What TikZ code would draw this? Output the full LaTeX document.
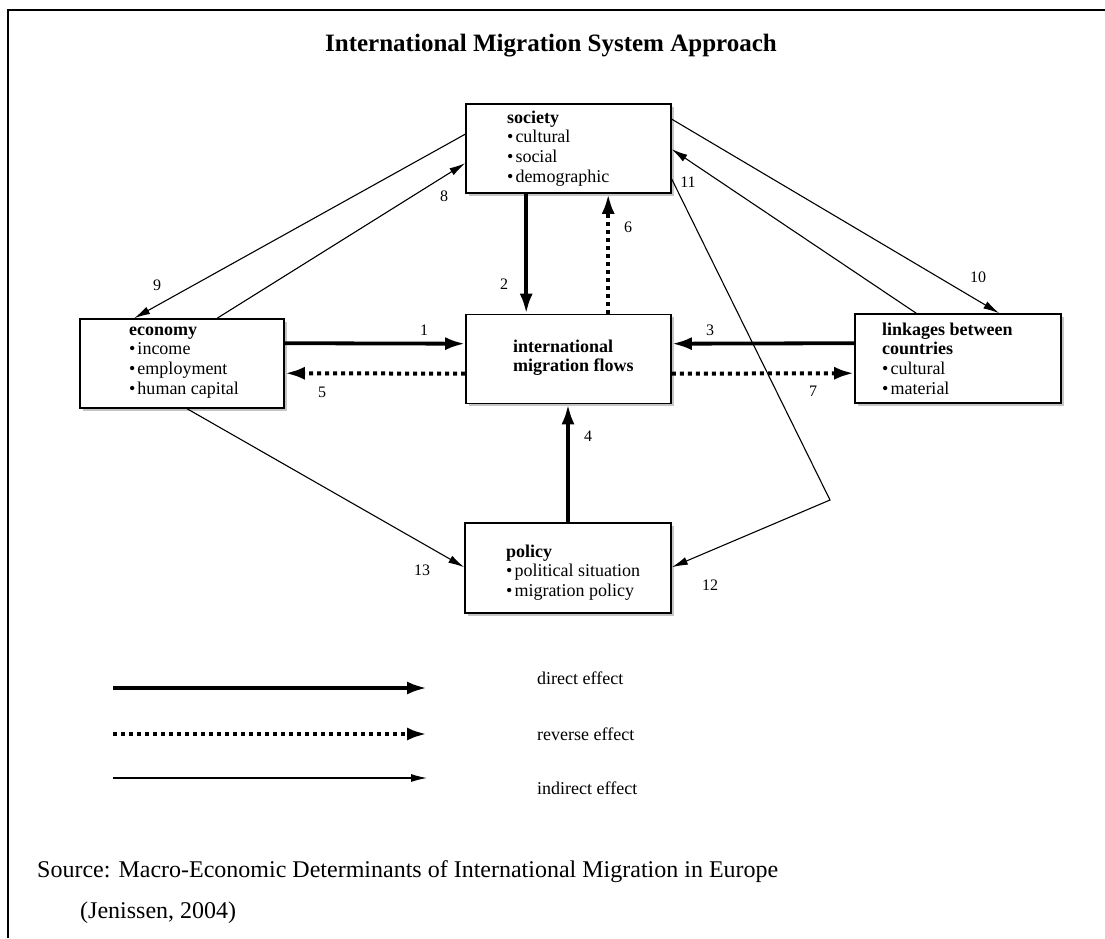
\documentclass[tikz,border=0pt]{standalone}
\usepackage{fontspec}
\setmainfont{Liberation Serif}
\usetikzlibrary{arrows.meta,shadows,calc}
\begin{document}
\begin{tikzpicture}[x=1pt,y=-1pt,
  boxnode/.style={draw, line width=1.6pt, fill=white, minimum width=205pt, minimum height=89pt, inner sep=0pt,
    drop shadow={shadow xshift=2.5pt, shadow yshift=-2.5pt, fill=black!45, opacity=0.5}},
  boxtext/.style={anchor=north west, align=left, inner sep=0pt, font=\fontsize{18}{19.7}\selectfont},
  num/.style={font=\fontsize{16}{18}\selectfont, inner sep=0pt},
  legtext/.style={anchor=west, inner sep=0pt, font=\fontsize{18}{20}\selectfont},
  direct/.style={line width=3.8pt, -{Latex[length=20pt,width=13pt]}},
  reverse/.style={line width=4pt, dash pattern=on 4pt off 4pt, -{Latex[length=20pt,width=13pt]}},
  indirect/.style={line width=1.1pt, -{Latex[length=16pt,width=8pt]}}
]
\useasboundingbox (0,0) rectangle (1105,938);
\fill[white] (0,0) rectangle (1105,938);
% frame
\draw[line width=2.5pt] (8,938) -- (8,10) -- (1105,10);

% title
\node[inner sep=0pt, anchor=base, font=\fontsize{25}{27}\selectfont\bfseries] (title) at (551,51) {International Migration System Approach};

% boxes
\node[boxnode] (soc) at (568.5,148.5) {};
\node[boxnode, minimum width=204pt] (eco) at (182,363.5) {};
\node[boxnode] (imf) at (568.5,359) {};
\node[boxnode, minimum width=206pt] (lnk) at (958,358.5) {};
\node[boxnode, minimum width=206pt, minimum height=90pt] (pol) at (568,568) {};

% box texts
\node[boxtext] (soct) at (507,109.2) {\strut\textbf{society}\\\textbullet\hspace{2pt}cultural\\\textbullet\hspace{2pt}social\\\textbullet\hspace{2pt}demographic};
\node[boxtext] (ecot) at (129,321.2) {\strut\textbf{economy}\\\textbullet\hspace{2pt}income\\\textbullet\hspace{2pt}employment\\\textbullet\hspace{2pt}human capital};
\node[boxtext] (imft) at (513,338.2) {\strut\textbf{international}\\\textbf{migration flows}};
\node[boxtext] (lnkt) at (882,321.2) {\strut\textbf{linkages between}\\\textbf{countries}\\\textbullet\hspace{2pt}cultural\\\textbullet\hspace{2pt}material};
\node[boxtext] (polt) at (506,543.2) {\strut\textbf{policy}\\\textbullet\hspace{2pt}political situation\\\textbullet\hspace{2pt}migration policy};

% direct effects
\draw[direct] ($(eco.north east)+(0,25)$) -- ($(imf.north west)+(0,30)$);
\draw[direct] ($(soc.south west)+(61,0)$) -- ($(imf.north west)+(61,0)$);
\draw[direct] ($(lnk.north west)+(0,30)$) -- ($(imf.north east)+(0,30)$);
\draw[direct] (pol.north) -- (pol.north |- imf.south);

% reverse effects
\draw[reverse] ($(imf.north west)+(0,60)$) -- ($(eco.north east)+(0,55)$);
\draw[reverse] ($(imf.north west)+(143,0)$) -- ($(soc.south west)+(143,0)$);
\draw[reverse] ($(imf.north east)+(0,60)$) -- ($(lnk.north west)+(0,60)$);

% indirect effects
\coordinate (bend) at (830,500);
\draw[indirect] ($(soc.north west)+(0,31)$) -- ($(eco.north west)+(55,0)$);
\draw[indirect] ($(eco.north west)+(138,0)$) -- ($(soc.north west)+(0,60)$);
\draw[indirect] ($(soc.north east)+(0,16)$) -- ($(lnk.north west)+(145,0)$);
\draw[indirect] ($(lnk.north west)+(62,0)$) -- ($(soc.north east)+(0,46)$);
\draw[indirect] ($(soc.north east)+(0,76)$) -- (bend) -- ($(pol.north east)+(0,45)$);
\draw[indirect] ($(eco.south west)+(108,0)$) -- ($(pol.north west)+(0,45)$);

% numbers
\node[num] (n1) at (424,330) {1};
\node[num] (n2) at (504,284) {2};
\node[num] (n3) at (710,330) {3};
\node[num] (n4) at (588,436) {4};
\node[num] (n5) at (322,392) {5};
\node[num] (n6) at (628,227) {6};
\node[num] (n7) at (813,391) {7};
\node[num] (n8) at (444,196) {8};
\node[num] (n9) at (157,285) {9};
\node[num] (n10) at (978,277) {10};
\node[num] (n11) at (688,182) {11};
\node[num] (n12) at (710,585) {12};
\node[num] (n13) at (422,570) {13};

% legend
\coordinate (la1) at (113,688); \coordinate (la2) at (427,688);
\coordinate (lb1) at (113,734); \coordinate (lb2) at (427,734);
\coordinate (lc1) at (113,778); \coordinate (lc2) at (427,778);
\draw[direct] (la1) -- (la2);
\draw[reverse] (lb1) -- (lb2);
\draw[indirect] (lc1) -- (lc2);
\node[legtext] (lt1) at (537,678) {direct effect};
\node[legtext] (lt2) at (537,734) {reverse effect};
\node[legtext] (lt3) at (537,788) {indirect effect};

% source
\node[inner sep=0pt, anchor=base west, font=\fontsize{24}{26}\selectfont] (src) at (37,877) {Source: Macro-Economic Determinants of International Migration in Europe};
\node[inner sep=0pt, anchor=base west, font=\fontsize{24}{26}\selectfont] (src2) at (80,918) {(Jenissen, 2004)};
\end{tikzpicture}
\end{document}
